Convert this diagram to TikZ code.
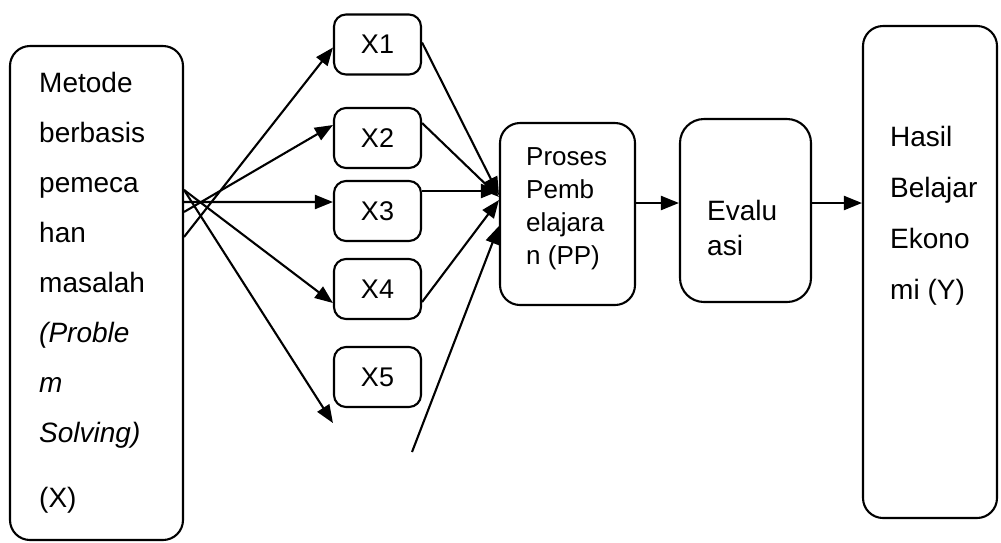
\documentclass[tikz,border=0pt]{standalone}
\usepackage{fontspec}
\setmainfont{Liberation Sans}
\usetikzlibrary{arrows.meta}
\begin{document}
\begin{tikzpicture}[x=1pt,y=-1pt,
  box/.style={draw,line width=2.1pt,rounded corners=20pt,inner sep=0pt},
  xbox/.style={draw,line width=2.1pt,rounded corners=12pt,minimum width=87pt,minimum height=60pt,inner sep=0pt,font=\fontsize{27}{30}\selectfont},
  arr/.style={line width=2.1pt,-{Triangle[length=18pt,width=14pt]}},
  txt/.style={anchor=base west,inner sep=0pt,font=\fontsize{28}{34}\selectfont},
  ptxt/.style={anchor=base west,inner sep=0pt,font=\fontsize{26}{30}\selectfont}
]
\useasboundingbox (0,0) rectangle (1001,542);
% main boxes
\node[box,minimum width=173pt,minimum height=494pt] (L) at (96.5,293) {};
\node[box,minimum width=135pt,minimum height=182pt] (P) at (567.5,214) {};
\node[box,rounded corners=24pt,minimum width=131pt,minimum height=183pt] (E) at (745.5,210.5) {};
\node[box,minimum width=134pt,minimum height=492pt] (H) at (930,272) {};
% X boxes
\node[xbox] (X1) at (377.5,44.5) {X1};
\node[xbox] (X2) at (377.5,138) {X2};
\node[xbox] (X3) at (377.5,211) {X3};
\node[xbox] (X4) at (377.5,289) {X4};
\node[xbox] (X5) at (377.5,377) {X5};
% left text
\node[txt] (l1) at (39,92) {Metode};
\node[txt] (l2) at (39,142) {berbasis};
\node[txt] (l3) at (39,192) {pemeca};
\node[txt] (l4) at (39,242) {han};
\node[txt] (l5) at (39,292) {masalah};
\node[txt] (l6) at (39,342) {\itshape (Proble};
\node[txt] (l7) at (39,392) {\itshape m};
\node[txt] (l8) at (39,442) {\itshape Solving)};
\node[txt] (l9) at (39,507) {(X)};
% PP text
\node[ptxt] (p1) at (526,165) {Proses};
\node[ptxt] (p2) at (526,198) {Pemb};
\node[ptxt] (p3) at (526,231) {elajara};
\node[ptxt] (p4) at (526,264) {n (PP)};
% Evaluasi text
\node[txt] (e1) at (707,220) {Evalu};
\node[txt] (e2) at (707,255) {asi};
% Hasil text
\node[txt] (h1) at (890,146) {Hasil};
\node[txt] (h2) at (890,197) {Belajar};
\node[txt] (h3) at (890,248) {Ekono};
\node[txt] (h4) at (890,299) {mi (Y)};
% arrows from left box to X boxes
\draw[arr] ([yshift=-192pt]L.north east) -- ([yshift=-3pt]X1.west);
\draw[arr] ([yshift=-167pt]L.north east) -- ([yshift=13pt]X2.west);
\draw[arr] ([yshift=-157pt]L.north east) -- ([yshift=9pt]X3.west);
\draw[arr] ([yshift=-145pt]L.north east) -- ([yshift=-14pt]X4.west);
\draw[arr] ([yshift=-145pt]L.north east) -- ([yshift=-15pt]X5.south west);
% arrows from X boxes to PP
\draw[arr] ([yshift=2pt]X1.east) -- ([yshift=19pt]P.west);
\draw[arr] ([yshift=15pt]X2.east) -- ([yshift=17pt]P.west);
\draw[arr] ([yshift=20pt]X3.east) -- ([yshift=20pt]X3.east -| P.west);
\draw[arr] ([yshift=-13pt]X4.east) -- ([yshift=14pt]P.west);
\coordinate (b) at (412,452);
\draw[arr] (b) -- ([yshift=-12pt]P.west);
% chain arrows
\draw[arr] ([yshift=11pt]P.east) -- ([yshift=11pt]P.east -| E.west);
\draw[arr] ([yshift=7.5pt]E.east) -- ([yshift=7.5pt]E.east -| H.west);
\end{tikzpicture}
\end{document}
